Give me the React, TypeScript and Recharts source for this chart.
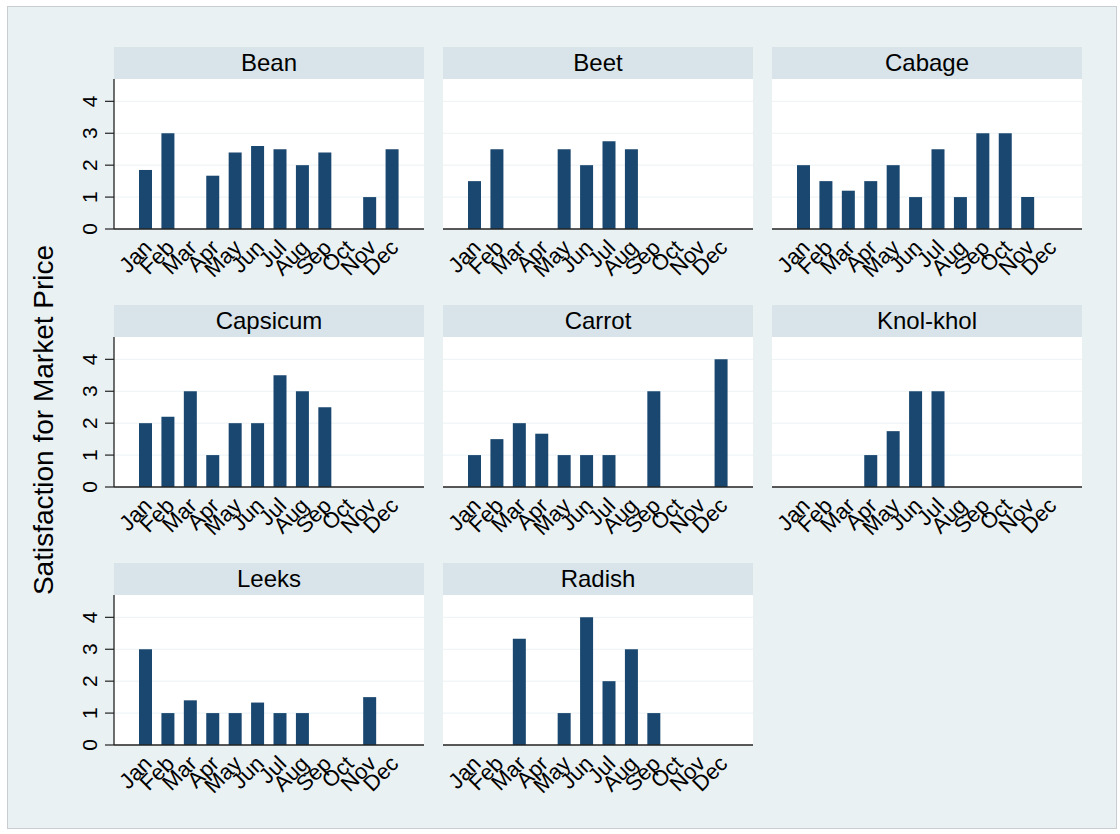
import React from 'react';
import { BarChart, Bar, XAxis, YAxis, CartesianGrid } from 'recharts';

const months = ['Jan', 'Feb', 'Mar', 'Apr', 'May', 'Jun', 'Jul', 'Aug', 'Sep', 'Oct', 'Nov', 'Dec'];
const yTicks = [0, 1, 2, 3, 4];

const crops = ['Bean', 'Beet', 'Cabage', 'Capsicum', 'Carrot', 'Knol-khol', 'Leeks', 'Radish'];

const bean = [1.85, 3, null, 1.67, 2.4, 2.6, 2.5, 2, 2.4, null, 1, 2.5];
const beet = [1.5, 2.5, null, null, 2.5, 2, 2.75, 2.5, null, null, null, null];
const cabage = [2, 1.5, 1.2, 1.5, 2, 1, 2.5, 1, 3, 3, 1, null];
const capsicum = [2, 2.2, 3, 1, 2, 2, 3.5, 3, 2.5, null, null, null];
const carrot = [1, 1.5, 2, 1.67, 1, 1, 1, null, 3, null, null, 4];
const knolKhol = [null, null, null, 1, 1.75, 3, 3, null, null, null, null, null];
const leeks = [3, 1, 1.4, 1, 1, 1.33, 1, 1, null, null, 1.5, null];
const radish = [null, null, 3.33, null, 1, 4, 2, 3, 1, null, null, null];

const series = [bean, beet, cabage, capsicum, carrot, knolKhol, leeks, radish];

const FONT = '"Liberation Sans", Arial, Helvetica, sans-serif';
const BG = '#eaf1f3';
const STRIP = '#d8e4ea';
const NAVY = '#1a476f';
const AXIS = '#222';

const colLeft = [114, 443, 772];
const rowTop = [79, 337, 595];
const PLOT_W = 310;
const PLOT_H = 150;
const STRIP_H = 32;
const Y_W = 40;

const MonthTick = (props: any) => {
  const { x, y, payload } = props;
  return (
    <g transform={`translate(${x - 3},${y + 9})`}>
      <text x={0} y={0} dy='0.71em' textAnchor='end' transform='rotate(-45)' fontSize={22} fontFamily={FONT} fill='#000'>
        {payload.value}
      </text>
    </g>
  );
};

const ValueTick = (props: any) => {
  const { x, y, payload } = props;
  return (
    <text x={x - 8} y={y} transform={`rotate(-90, ${x - 8}, ${y})`} textAnchor='middle' fontSize={21} fontFamily={FONT} fill='#000'>
      {payload.value}
    </text>
  );
};

interface PanelProps {
  title: string;
  values: (number | null)[];
  col: number;
  row: number;
}

function Panel({ title, values, col, row }: PanelProps) {
  const data = months.map((m, i) => ({ month: m, value: values[i] }));
  const showY = col === 0;
  const left = colLeft[col] - (showY ? Y_W : 0);
  const top = rowTop[row];
  return (
    <>
      <div
        style={{
          position: 'absolute',
          left: colLeft[col],
          top: top - STRIP_H,
          width: PLOT_W,
          height: STRIP_H,
          lineHeight: `${STRIP_H}px`,
          background: STRIP,
          textAlign: 'center',
          fontFamily: FONT,
          fontSize: 24,
          color: '#000',
        }}
      >
        {title}
      </div>
      <div style={{ position: 'absolute', left, top }}>
        <BarChart
          width={PLOT_W + (showY ? Y_W : 0)}
          height={PLOT_H + 60}
          data={data}
          margin={{ top: 0, right: 0, bottom: 0, left: 0 }}
          barSize={13}
        >
          <CartesianGrid vertical={false} fill='#fff' stroke='#edf2f4' horizontalValues={[1, 2, 3, 4]} />
          <XAxis
            dataKey='month'
            type='category'
            interval={0}
            height={60}
            padding={{ left: 20, right: 21 }}
            tickLine={false}
            tickSize={0}
            tickMargin={0}
            axisLine={{ stroke: AXIS, strokeWidth: 1.3 }}
            tick={<MonthTick />}
          />
          <YAxis
            hide={!showY}
            width={Y_W}
            domain={[0, 4.7]}
            ticks={yTicks}
            interval={0}
            tickSize={9}
            tickMargin={0}
            tickLine={{ stroke: AXIS, strokeWidth: 1.2 }}
            axisLine={{ stroke: AXIS, strokeWidth: 1.3 }}
            tick={<ValueTick />}
          />
          <Bar dataKey='value' fill={NAVY} isAnimationActive={false} />
        </BarChart>
      </div>
    </>
  );
}

export default function App() {
  return (
    <div style={{ position: 'absolute', left: 0, top: 0, width: 1120, height: 834, background: '#fff' }}>
      <div
        style={{
          position: 'absolute',
          left: 7,
          top: 6,
          width: 1110,
          height: 823,
          boxSizing: 'border-box',
          border: '1px solid #c9cdd0',
          background: BG,
        }}
      />
      {crops.map((c, i) => (
        <Panel key={c} title={c} values={series[i]} col={i % 3} row={Math.floor(i / 3)} />
      ))}
      <div
        style={{
          position: 'absolute',
          left: 44,
          top: 420,
          transform: 'translate(-50%, -50%) rotate(-90deg)',
          whiteSpace: 'nowrap',
          fontFamily: FONT,
          fontSize: 28,
          color: '#000',
        }}
      >
        Satisfaction for Market Price
      </div>
    </div>
  );
}
